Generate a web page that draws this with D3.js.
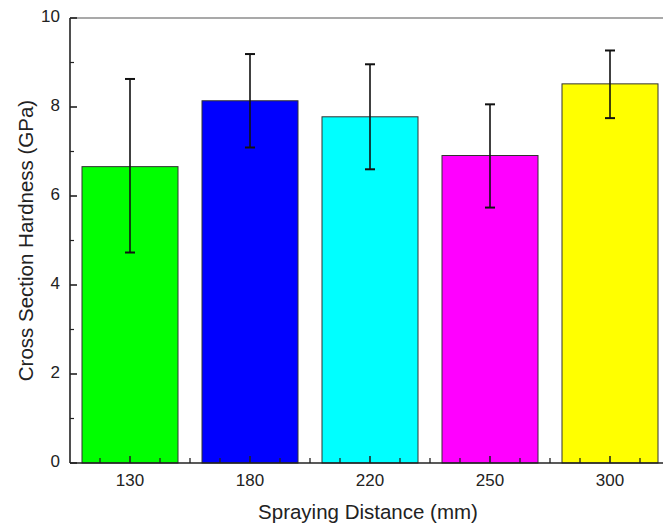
<!DOCTYPE html>
<html><head><meta charset="utf-8">
<script src="https://cdn.jsdelivr.net/npm/d3@7"></script>
<style>body{margin:0;background:#fff}svg{display:block}text{font-family:"Liberation Sans",Arial,sans-serif;fill:#222}</style>
</head><body>
<svg id="c" width="663" height="524"></svg>
<script>
const categories = ["130","180","220","250","300"];
const values = [6.66, 8.14, 7.78, 6.91, 8.52];
const errUpper = [8.63, 9.19, 8.96, 8.06, 9.27];
const errLower = [4.73, 7.09, 6.60, 5.74, 7.75];
const colors = ["#00ff00","#0000ff","#00ffff","#ff00ff","#ffff00"];
const yTicks = [0,2,4,6,8,10];
const yMinor = [1,3,5,7,9];

const svg = d3.select("#c");
const L = 70, R = 670, T = 18, B = 463;
const x = d3.scaleBand().domain(categories).range([L, R]).paddingInner(0.2).paddingOuter(0.1);
const y = d3.scaleLinear().domain([0, 10]).range([B, T]);

// bars
svg.selectAll("rect.bar").data(categories).join("rect")
  .attr("x", d => x(d)).attr("width", x.bandwidth())
  .attr("y", (d,i) => y(values[i])).attr("height", (d,i) => y(0) - y(values[i]))
  .attr("fill", (d,i) => colors[i]).attr("stroke", "#333").attr("stroke-width", 1);

// error bars
const cx = d => x(d) + x.bandwidth()/2;
const g = svg.append("g").attr("stroke", "#111").attr("stroke-width", 1.6);
categories.forEach((d,i) => {
  g.append("line").attr("x1", cx(d)).attr("x2", cx(d)).attr("y1", y(errUpper[i])).attr("y2", y(errLower[i]));
  [errUpper[i], errLower[i]].forEach(v => {
    g.append("line").attr("x1", cx(d)-5).attr("x2", cx(d)+5).attr("y1", y(v)).attr("y2", y(v)).attr("stroke-width", 2);
  });
});

// frame: left, bottom, top
const ax = svg.append("g").attr("stroke", "#222").attr("stroke-width", 1.6).attr("fill", "none");
ax.append("line").attr("x1", L).attr("x2", L).attr("y1", T).attr("y2", B);
ax.append("line").attr("x1", L).attr("x2", 663).attr("y1", B).attr("y2", B);
ax.append("line").attr("x1", L).attr("x2", 663).attr("y1", T).attr("y2", T).attr("stroke", "#555").attr("stroke-width", 1.2);

// y ticks (inward)
yTicks.forEach(v => {
  ax.append("line").attr("x1", L).attr("x2", L+7).attr("y1", y(v)).attr("y2", y(v));
  svg.append("text").attr("x", L-10).attr("y", y(v)+4).attr("text-anchor", "end").attr("font-size", 17).text(v);
});
yMinor.forEach(v => {
  ax.append("line").attr("x1", L).attr("x2", L+4).attr("y1", y(v)).attr("y2", y(v)).attr("stroke-width", 1.2);
});

// x ticks (inward)
const step = x.step();
categories.forEach(d => {
  const c = cx(d);
  ax.append("line").attr("x1", c).attr("x2", c).attr("y1", B).attr("y2", B-7);
  [c - step/4, c + step/4, c + step/2].forEach(p => {
    if (p < 663) ax.append("line").attr("x1", p).attr("x2", p).attr("y1", B).attr("y2", B-5).attr("stroke-width", 1.3);
  });
  svg.append("text").attr("x", c).attr("y", B+23).attr("text-anchor", "middle").attr("font-size", 17).text(d);
});

// axis titles
svg.append("text").attr("x", 368).attr("y", 519).attr("text-anchor", "middle").attr("font-size", 20.5).text("Spraying Distance (mm)");
svg.append("text").attr("transform", `translate(33,${(T+B)/2}) rotate(-90)`).attr("text-anchor", "middle").attr("font-size", 20.5).text("Cross Section Hardness (GPa)");
</script>
</body></html>
